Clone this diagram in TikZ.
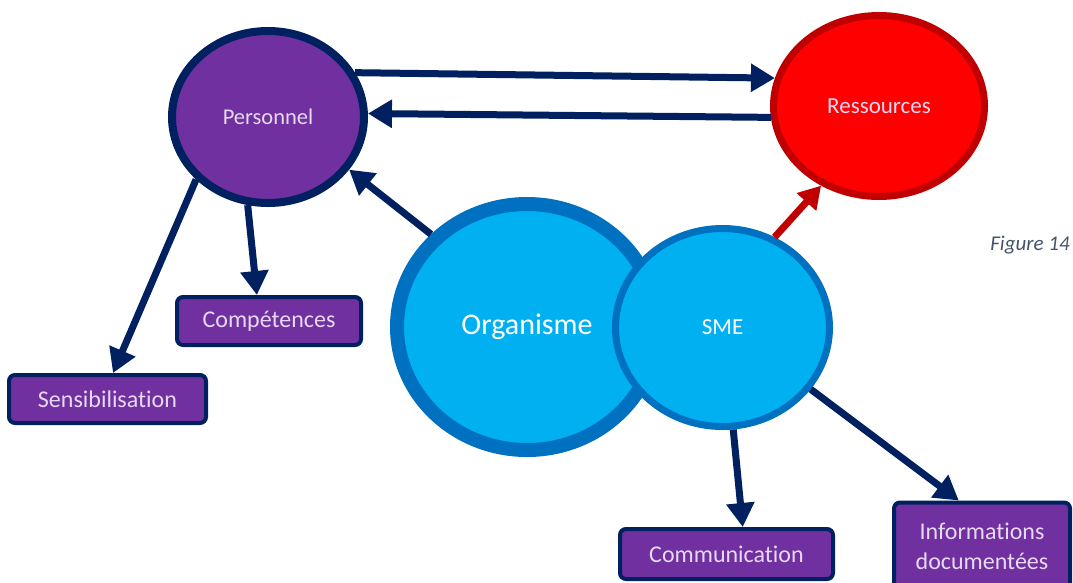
\documentclass[tikz,border=0pt]{standalone}
\usepackage{fontspec}
\setmainfont{Carlito}[Ligatures=NoCommon]
\usetikzlibrary{arrows.meta,shapes.geometric}
\definecolor{navy}{HTML}{002060}
\definecolor{purp}{HTML}{7030A0}
\definecolor{lav}{HTML}{E6D9F2}
\definecolor{redfill}{HTML}{FF0000}
\definecolor{redline}{HTML}{C00000}
\definecolor{bluefill}{HTML}{00B0F0}
\definecolor{blueline}{HTML}{0070C0}
\definecolor{capgray}{HTML}{44546A}
\tikzset{
  bubble/.style={ellipse, inner sep=0pt},
  pbox/.style={rectangle, rounded corners=6pt, draw=navy, line width=4pt, fill=purp,
    text=lav, inner sep=0pt, font=\fontsize{24}{30}\selectfont, align=center},
  conn/.style={draw=navy, line width=7pt, -{Triangle[length=24pt,width=27pt]}},
  redconn/.style={draw=redline, line width=7pt, -{Triangle[length=22pt,width=25pt]}},
}
\begin{document}
\begin{tikzpicture}[x=1pt,y=-1pt]
\useasboundingbox (0,0) rectangle (1073,582);
\clip (0,0) rectangle (1073,582);
\node[bubble, draw=navy, line width=8pt, fill=purp, minimum width=192pt, minimum height=172pt,
  text=lav, font=\fontsize{22.5}{26}\selectfont] (pers) at (268,117) {Personnel};
\node[bubble, draw=redline, line width=7pt, fill=redfill, minimum width=211pt, minimum height=181pt,
  text=lav, font=\fontsize{23}{26}\selectfont] (res) at (879,106) {Ressources};
\node[bubble, draw=blueline, line width=14pt, fill=bluefill, minimum width=260pt, minimum height=246pt,
  text=white, font=\fontsize{30}{34}\selectfont] (org) at (527,327) {Organisme};
\node[bubble, draw=blueline, line width=7pt, fill=bluefill, minimum width=214pt, minimum height=198pt,
  text=white, font=\fontsize{23}{26}\selectfont] (sme) at (722.5,327.5) {SME};
\node[pbox, minimum width=184pt, minimum height=48pt] (comp) at (269,321) {Compétences};
\node[pbox, minimum width=197pt, minimum height=48pt] (sens) at (107.5,399) {Sensibilisation};
\node[pbox, minimum width=213pt, minimum height=50pt] (comm) at (726.5,554) {Communication};
\node[pbox, minimum width=176pt, minimum height=87pt] (info) at (982,546) {Informations\\documentées};
\node[text=capgray, font=\fontsize{21}{24}\selectfont\itshape] (fig) at (1030,245) {Figure 14};
\draw[conn] (pers.27) -- (res.165);
\draw[conn] (res.186) -- (pers.2);
\draw[conn] (org.136) -- (pers.-33);
\draw[redconn] (sme.60) -- (res.234);
\draw[conn] (pers.221) -- (sens.78);
\draw[conn] (pers.257) -- (comp.115);
\draw[conn] (sme.-84) -- (comm.59);
\draw[conn] (sme.-35) -- (info.117);
\end{tikzpicture}
\end{document}
